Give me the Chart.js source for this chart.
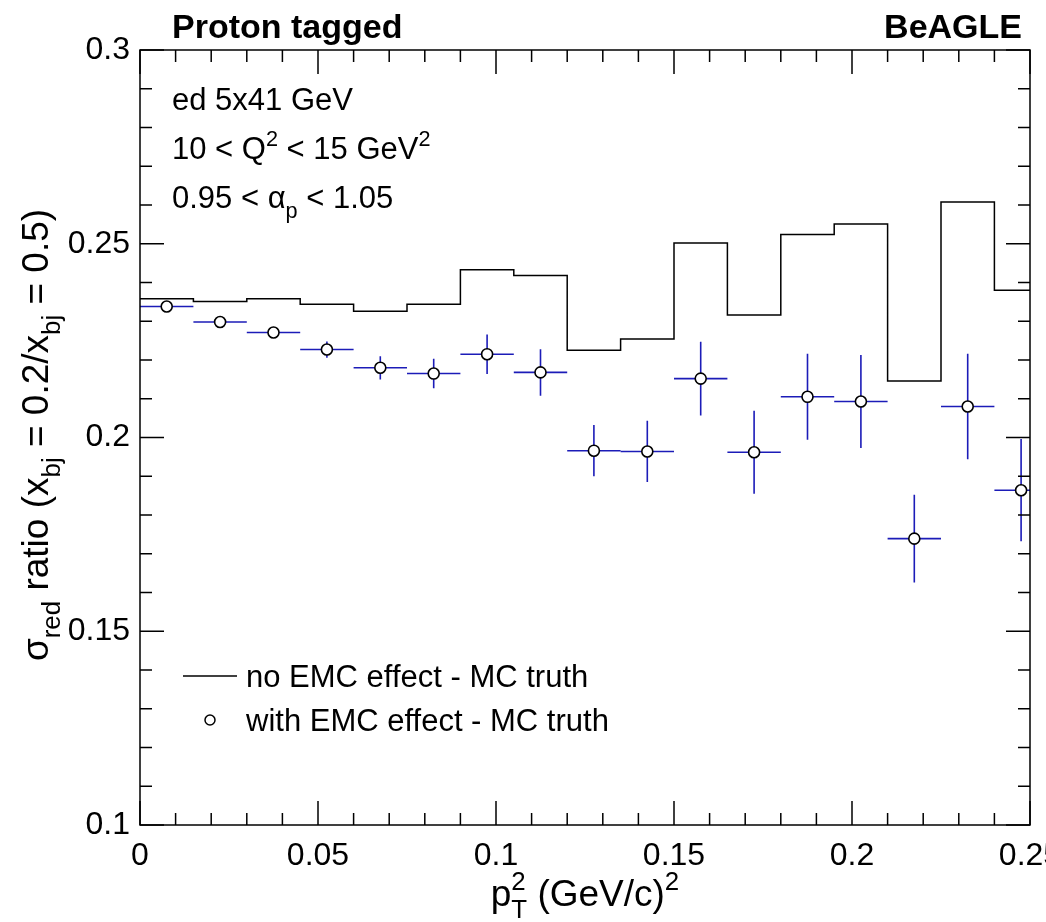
<!DOCTYPE html>
<html>
<head>
<meta charset="utf-8">
<script src="https://cdn.jsdelivr.net/npm/chart.js@4/dist/chart.umd.min.js"></script>
<style>
  html, body { margin: 0; padding: 0; background: #fff; overflow: hidden; }
  #wrap { width: 1046px; height: 922px; }
</style>
</head>
<body>
<div id="wrap"><canvas id="mychart" width="1046" height="922"></canvas></div>
<script>
'use strict'

// data

let binEdges = [0, 0.015, 0.03, 0.045, 0.06, 0.075, 0.09, 0.105, 0.12, 0.135, 0.15, 0.165, 0.18, 0.195, 0.21, 0.225, 0.24, 0.255];

// no EMC effect - MC truth (histogram)
let noEmc = [0.2358, 0.2351, 0.2358, 0.2344, 0.2326, 0.2344, 0.2433, 0.2418, 0.2225, 0.2254, 0.2502, 0.2316, 0.2524, 0.2551, 0.2146, 0.2608, 0.2380];

// with EMC effect - MC truth (points + errors)
let withEmc = [0.2338, 0.2298, 0.2271, 0.2227, 0.2180, 0.2165, 0.2215, 0.2168, 0.1966, 0.1964, 0.2152, 0.1962, 0.2105, 0.2093, 0.1739, 0.2080, 0.1864];
let withEmcErr = [0.0008, 0.0010, 0.0013, 0.0021, 0.0030, 0.0038, 0.0051, 0.0060, 0.0066, 0.0079, 0.0095, 0.0107, 0.0111, 0.0120, 0.0113, 0.0136, 0.0132];

let xTicks = [0, 0.05, 0.1, 0.15, 0.2, 0.25];
let yTicks = [0.1, 0.15, 0.2, 0.25, 0.3];

const FONT = '"Liberation Sans", Arial, Helvetica, sans-serif';
const BLUE = '#1c1cb8';

// build datasets

let histPoints = [];
for (let i = 0; i < noEmc.length; i++) {
  histPoints.push({ x: binEdges[i], y: noEmc[i] });
}
histPoints.push({ x: binEdges[noEmc.length], y: noEmc[noEmc.length - 1] });

let emcPoints = [];
for (let i = 0; i < withEmc.length; i++) {
  emcPoints.push({ x: (binEdges[i] + binEdges[i + 1]) / 2, y: withEmc[i] });
}

// text with sub / superscripts: parts = [[text, 'n'|'sub'|'sup'], ...]
function partSize(p, size) {
  return p[1] === 'n' ? size : size * 0.7;
}

function richWidth(ctx, parts, size, weight = 'normal') {
  let w = 0;
  for (let p of parts) {
    if (p[2] === 'stack') continue;
    ctx.font = `${weight} ${partSize(p, size)}px ${FONT}`;
    w += ctx.measureText(p[0]).width;
  }
  return w;
}

// a part with third field 'stack' is drawn over the previous one (p_T^2)
function drawRich(ctx, parts, x, y, size, weight = 'normal') {
  ctx.textAlign = 'left';
  ctx.textBaseline = 'alphabetic';
  let lastX = x;
  for (let p of parts) {
    let s = partSize(p, size), dy = 0;
    if (p[1] === 'sub') dy = size * 0.32;
    if (p[1] === 'sup') dy = -size * 0.42;
    ctx.font = `${weight} ${s}px ${FONT}`;
    if (p[2] === 'stack') {
      ctx.fillText(p[0], lastX, y + dy);
      continue;
    }
    lastX = x;
    ctx.fillText(p[0], x, y + dy);
    x += ctx.measureText(p[0]).width;
  }
}

// error bars under the markers
let errorBars = {
  id: 'errorBars',
  beforeDatasetsDraw(chart) {
    let ctx = chart.ctx;
    let xs = chart.scales.x, ys = chart.scales.y;
    let a = chart.chartArea;
    ctx.save();
    ctx.beginPath();
    ctx.rect(a.left, a.top, a.right - a.left, a.bottom - a.top);
    ctx.clip();
    ctx.strokeStyle = BLUE;
    ctx.lineWidth = 1.6;
    for (let i = 0; i < withEmc.length; i++) {
      let xc = xs.getPixelForValue((binEdges[i] + binEdges[i + 1]) / 2);
      let yc = ys.getPixelForValue(withEmc[i]);
      ctx.beginPath();
      ctx.moveTo(xs.getPixelForValue(binEdges[i]), yc);
      ctx.lineTo(xs.getPixelForValue(binEdges[i + 1]), yc);
      ctx.moveTo(xc, ys.getPixelForValue(withEmc[i] - withEmcErr[i]));
      ctx.lineTo(xc, ys.getPixelForValue(withEmc[i] + withEmcErr[i]));
      ctx.stroke();
    }
    ctx.restore();
  }
};

// ROOT style frame, inward ticks, titles, labels and legend
let frameAndText = {
  id: 'frameAndText',
  afterDraw(chart) {
    let ctx = chart.ctx;
    let xs = chart.scales.x, ys = chart.scales.y;
    let a = chart.chartArea;
    ctx.save();
    ctx.strokeStyle = '#000';
    ctx.lineWidth = 1.5;
    ctx.strokeRect(a.left, a.top, a.right - a.left, a.bottom - a.top);

    ctx.beginPath();
    for (let i = 0; i <= 25; i++) {
      let px = xs.getPixelForValue(i * 0.01);
      let len = i % 5 === 0 ? 24 : 12;
      ctx.moveTo(px, a.bottom); ctx.lineTo(px, a.bottom - len);
      ctx.moveTo(px, a.top); ctx.lineTo(px, a.top + len);
    }
    for (let i = 10; i <= 30; i++) {
      let py = ys.getPixelForValue(i * 0.01);
      let len = i % 5 === 0 ? 24 : 12;
      ctx.moveTo(a.left, py); ctx.lineTo(a.left + len, py);
      ctx.moveTo(a.right, py); ctx.lineTo(a.right - len, py);
    }
    ctx.stroke();

    ctx.fillStyle = '#000';

    // titles on top
    ctx.font = `bold 34px ${FONT}`;
    ctx.textBaseline = 'alphabetic';
    ctx.textAlign = 'left';
    ctx.fillText('Proton tagged', 172, 38);
    ctx.textAlign = 'right';
    ctx.fillText('BeAGLE', 1022, 38);

    // cuts
    drawRich(ctx, [['ed 5x41 GeV', 'n']], 172, 110, 31);
    drawRich(ctx, [['10 < Q', 'n'], ['2', 'sup'], [' < 15 GeV', 'n'], ['2', 'sup']], 172, 159, 31);
    drawRich(ctx, [['0.95 < ', 'n'], ['\u03b1', 'n'], ['p', 'sub'], [' < 1.05', 'n']], 172, 208, 31);

    // legend
    ctx.beginPath();
    ctx.lineWidth = 1.5;
    ctx.strokeStyle = '#000';
    ctx.moveTo(183, 676); ctx.lineTo(237, 676);
    ctx.stroke();
    ctx.beginPath();
    ctx.arc(210, 720, 5, 0, Math.PI * 2);
    ctx.fillStyle = '#fff';
    ctx.fill();
    ctx.stroke();
    ctx.fillStyle = '#000';
    drawRich(ctx, [['no EMC effect - MC truth', 'n']], 246, 687, 31);
    drawRich(ctx, [['with EMC effect - MC truth', 'n']], 246, 731, 31);

    // x title
    let xt = [['p', 'n'], ['T', 'sub'], ['2', 'sup', 'stack'], [' (GeV/c)', 'n'], ['2', 'sup']];
    let xw = richWidth(ctx, xt, 37);
    drawRich(ctx, xt, (a.left + a.right) / 2 - xw / 2, 906, 37);

    // y title
    let yt = [['\u03c3', 'n'], ['red', 'sub'], [' ratio (x', 'n'], ['bj', 'sub'], [' = 0.2/x', 'n'], ['bj', 'sub'], [' = 0.5)', 'n']];
    let yw = richWidth(ctx, yt, 37);
    ctx.translate(48, 435);
    ctx.rotate(-Math.PI / 2);
    drawRich(ctx, yt, -yw / 2, 0, 37);
    ctx.restore();
  }
};

let ctxWindow = document.getElementById('mychart');

let myObj = {
  type: 'scatter',
  data: {
    datasets: [{
      type: 'line',
      label: 'no EMC effect - MC truth',
      data: histPoints,
      stepped: 'before',
      borderColor: '#000',
      borderWidth: 1.5,
      pointRadius: 0,
      fill: false
    },
    {
      label: 'with EMC effect - MC truth',
      data: emcPoints,
      pointStyle: 'circle',
      pointRadius: 5.5,
      pointBackgroundColor: '#fff',
      pointBorderColor: '#000',
      pointBorderWidth: 1.6,
      showLine: false
    }]
  },
  options: {
    responsive: false,
    animation: false,
    layout: { padding: { top: 50, right: 16, left: 0, bottom: 0 } },
    plugins: {
      legend: { display: false },
      tooltip: { enabled: false }
    },
    scales: {
      x: {
        type: 'linear',
        min: 0,
        max: 0.25,
        afterBuildTicks: (scale) => { scale.ticks = xTicks.map(v => ({ value: v })); },
        afterFit: (scale) => { scale.height = 97; scale.paddingLeft = 0; scale.paddingRight = 0; },
        grid: { display: false, drawTicks: false },
        border: { display: false },
        ticks: {
          padding: 12,
          color: '#000',
          maxRotation: 0,
          font: { family: FONT, size: 32 },
          callback: (v) => String(parseFloat(v.toFixed(2)))
        }
      },
      y: {
        min: 0.1,
        max: 0.3,
        afterBuildTicks: (scale) => { scale.ticks = yTicks.map(v => ({ value: v })); },
        afterFit: (scale) => { scale.width = 140; scale.paddingTop = 0; scale.paddingBottom = 0; },
        grid: { display: false, drawTicks: false },
        border: { display: false },
        ticks: {
          padding: 10,
          color: '#000',
          font: { family: FONT, size: 32 },
          callback: (v) => String(parseFloat(v.toFixed(2)))
        }
      }
    }
  },
  plugins: [errorBars, frameAndText]
};

const myChart = new Chart(ctxWindow, myObj);
</script>
</body>
</html>
